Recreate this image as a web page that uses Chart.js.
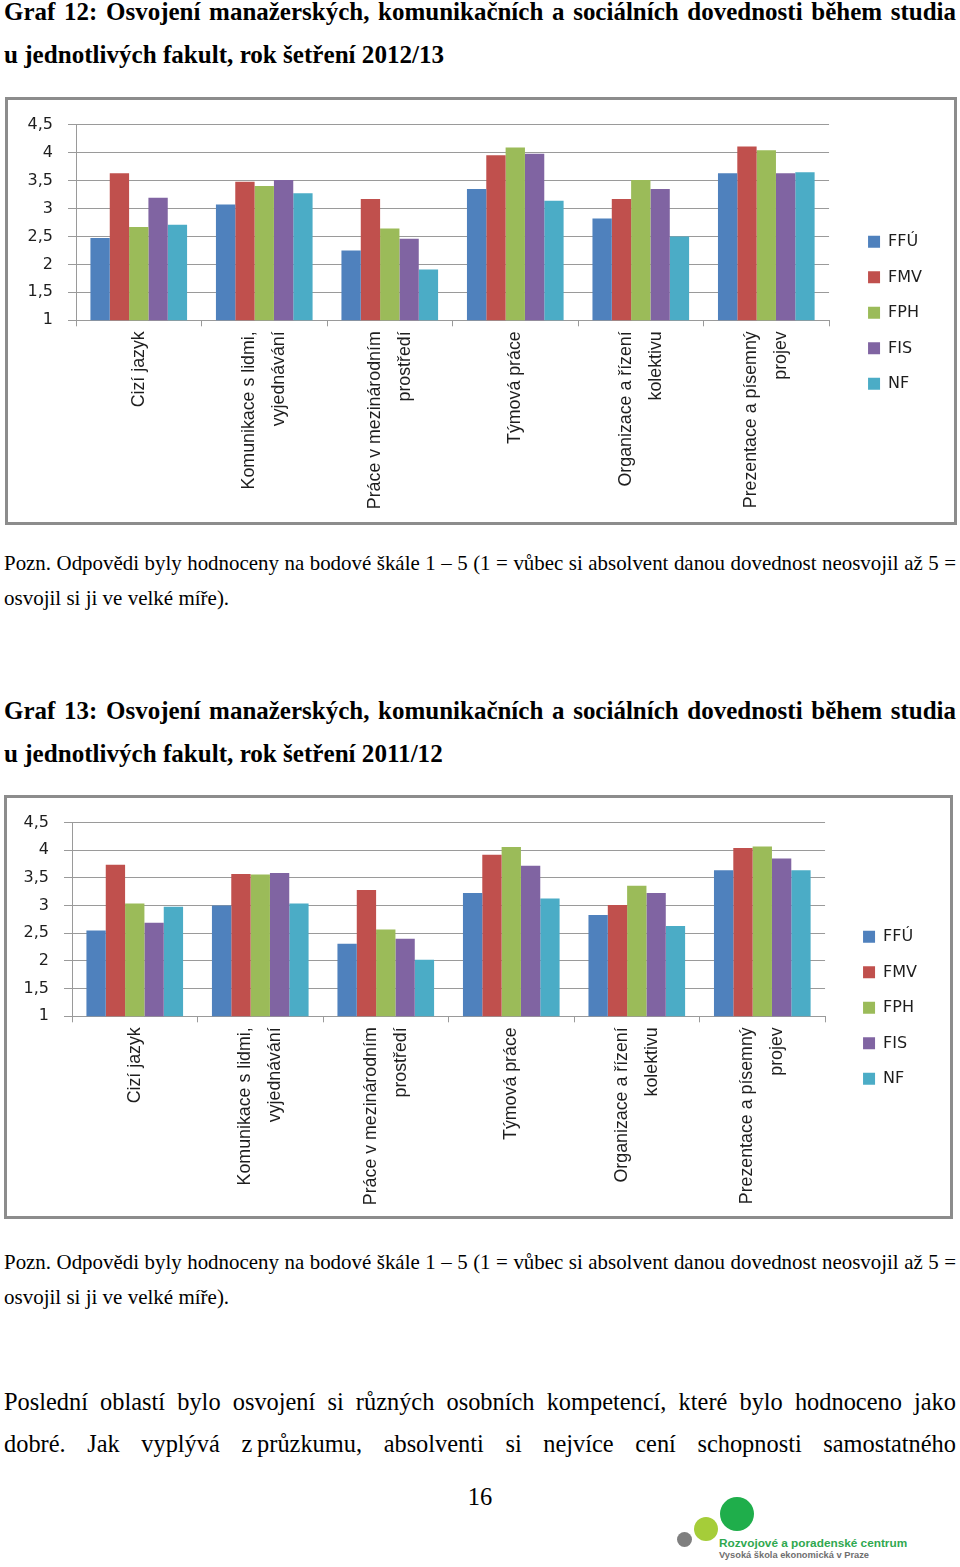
<!DOCTYPE html>
<html>
<head>
<meta charset="utf-8">
<script src="https://cdn.jsdelivr.net/npm/chart.js@4.4.1/dist/chart.umd.min.js"></script>
<style>
  body { margin: 0; background: #fff; }
  #page { position: relative; width: 960px; height: 1567px; overflow: hidden; font-family: "Liberation Serif", "Times New Roman", serif; color: #000; }
  .line { position: absolute; left: 4px; width: 952px; white-space: nowrap; line-height: 1; transform-origin: 0 0; }
  .just { text-align: justify; text-align-last: justify; }
  .title { font-weight: bold; }
  .box { position: absolute; border: 3px solid #8c8c8c; background: #fff; }
  .box .wrap { position: absolute; left: 0; top: 0; }
  .dot { position: absolute; border-radius: 50%; }
</style>
</head>
<body>
<div id="page">
  <div class="line title just" data-h="26" data-w="25.1" style="top:-2.3px"><span>Graf 12: Osvojení manažerských, komunikačních a sociálních dovednosti během studia</span></div>
  <div class="line title" data-h="26" data-w="25.1" style="top:41.2px"><span>u jednotlivých fakult, rok šetření 2012/13</span></div>

  <div class="box" style="left:5px; top:97px; width:946px; height:422px;">
    <div class="wrap" style="width:946px; height:422px;"><canvas id="chart1"></canvas></div>
  </div>

  <div class="line note just" data-h="22" data-w="21" style="top:551.6px"><span>Pozn. Odpovědi byly hodnoceny na bodové škále 1 – 5 (1 = vůbec si absolvent danou dovednost neosvojil až 5 =</span></div>
  <div class="line note" data-h="22" data-w="21" style="top:586.6px"><span>osvojil si ji ve velké míře).</span></div>

  <div class="line title just" data-h="26" data-w="25.1" style="top:696.7px"><span>Graf 13: Osvojení manažerských, komunikačních a sociálních dovednosti během studia</span></div>
  <div class="line title" data-h="26" data-w="25.1" style="top:740.2px"><span>u jednotlivých fakult, rok šetření 2011/12</span></div>

  <div class="box" style="left:4px; top:795px; width:943px; height:418px;">
    <div class="wrap" style="width:943px; height:418px;"><canvas id="chart2"></canvas></div>
  </div>

  <div class="line note just" data-h="22" data-w="21" style="top:1250.6px"><span>Pozn. Odpovědi byly hodnoceny na bodové škále 1 – 5 (1 = vůbec si absolvent danou dovednost neosvojil až 5 =</span></div>
  <div class="line note" data-h="22" data-w="21" style="top:1285.6px"><span>osvojil si ji ve velké míře).</span></div>

  <div class="line para just" data-h="25.5" data-w="24.5" style="top:1388.5px"><span>Poslední oblastí bylo osvojení si různých osobních kompetencí, které bylo hodnoceno jako</span></div>
  <div class="line para just" data-h="25.5" data-w="24.5" style="top:1430.5px"><span>dobré. Jak vyplývá z&#8201;průzkumu, absolventi si nejvíce cení schopnosti samostatného</span></div>
  <div class="line para" data-h="25.5" data-w="24.5" style="top:1483.5px; text-align:center; left:0; width:960px;"><span>16</span></div>

  <!-- logo -->
  <div class="dot" style="left:677px; top:1532px; width:15px; height:15px; background:#7f7f7f;"></div>
  <div class="dot" style="left:694px; top:1517px; width:24px; height:24px; background:#a5cd39;"></div>
  <div class="dot" style="left:720px; top:1497px; width:34px; height:34px; background:#1fae4b;"></div>
  <div style="position:absolute; left:719px; top:1536px; font:bold 11.8px 'Liberation Sans', Arial, sans-serif; color:#2fa84f; white-space:nowrap;">Rozvojové a poradenské centrum</div>
  <div style="position:absolute; left:719px; top:1550px; font:bold 9.3px 'Liberation Sans', Arial, sans-serif; color:#6f6f6f; white-space:nowrap;">Vysoká škola ekonomická v Praze</div>
</div>

<script>
// TEXT LINES: horizontal size from data-w (shrunk if the line would not fit),
// vertical size from data-h through scaleY
document.querySelectorAll(".line").forEach(el => {
  const h = parseFloat(el.dataset.h);
  const wSize = parseFloat(el.dataset.w);
  el.style.fontSize = wSize + "px";
  const w = el.firstElementChild.getBoundingClientRect().width;
  const size = w > 948 ? wSize * 948 / w : wSize;
  el.style.fontSize = size + "px";
  el.style.transform = "scaleY(" + (h / size) + ")";
  if (el.classList.contains("just")) {
    el.style.whiteSpace = "normal";
  }
});

// skills (categories); one-line labels get an empty first line so that
// every label block ends up centred on its category
const skills = [
  ["", "Cizí jazyk"],
  ["Komunikace s lidmi,", "vyjednávání"],
  ["Práce v mezinárodním", "prostředí"],
  ["", "Týmová práce"],
  ["Organizace a řízení", "kolektivu"],
  ["Prezentace a písemný", "projev"]
];
const singleLine = [true, false, false, true, false, false];

const faculties = ["FFÚ", "FMV", "FPH", "FIS", "NF"];
const colors = ["#4F81BD", "#C0504D", "#9BBB59", "#8064A2", "#4BACC6"];
const yTicks = [1, 1.5, 2, 2.5, 3, 3.5, 4, 4.5];

// GRAF 12 - rok 2012/13
const ffu2013 = [2.47, 3.07, 2.25, 3.35, 2.82, 3.63];
const fmv2013 = [3.63, 3.48, 3.17, 3.95, 3.17, 4.11];
const fph2013 = [2.67, 3.40, 2.64, 4.09, 3.51, 4.04];
const fis2013 = [3.19, 3.51, 2.46, 3.98, 3.35, 3.63];
const nf2013  = [2.71, 3.27, 1.91, 3.14, 2.50, 3.65];

// GRAF 13 - rok 2011/12
const ffu2012 = [2.55, 3.00, 2.31, 3.23, 2.83, 3.64];
const fmv2012 = [3.74, 3.57, 3.28, 3.92, 3.01, 4.04];
const fph2012 = [3.04, 3.56, 2.57, 4.06, 3.36, 4.07];
const fis2012 = [2.69, 3.59, 2.40, 3.72, 3.23, 3.85];
const nf2012  = [2.98, 3.04, 2.02, 3.13, 2.63, 3.64];

// move the legend a bit away from the plot
const legendShift = {
  id: "legendShift",
  afterLayout(chart, args, opts) {
    chart.legend.left += opts.x;
    chart.legend.right += opts.x;
    chart.legend.top += opts.y;
    chart.legend.bottom += opts.y;
  }
};

const LABEL_LINE = 30;
const LABEL_SIZE = 17.8;

function makeChart(id, series, geo) {
  const gridColor = "#9a9a9a";
  return new Chart(document.getElementById(id), {
    type: "bar",
    plugins: [legendShift],
    data: {
      labels: skills,
      datasets: series.map((data, i) => ({
        label: faculties[i],
        data: data,
        backgroundColor: colors[i],
        borderWidth: 0,
        categoryPercentage: 0.77,
        barPercentage: 1
      }))
    },
    options: {
      responsive: true,
      maintainAspectRatio: false,
      animation: false,
      layout: {
        padding: { top: geo.top, right: geo.right, left: 0, bottom: 0 }
      },
      plugins: {
        legendShift: { x: geo.shift, y: -9 },
        tooltip: { enabled: false },
        legend: {
          position: "right",
          align: "center",
          labels: {
            boxWidth: 12,
            boxHeight: 12,
            padding: 19.5,
            color: "#1e1e1e",
            font: { family: "DejaVu Sans", size: 16 }
          }
        }
      },
      scales: {
        x: {
          afterFit: (scale) => { scale.height = geo.xHeight; },
          grid: {
            offset: true,
            drawOnChartArea: false,
            tickLength: 6,
            color: gridColor
          },
          border: { color: gridColor },
          ticks: {
            autoSkip: false,
            maxRotation: 90,
            minRotation: 90,
            padding: 5,
            labelOffset: -LABEL_LINE / 2,
            color: "#1e1e1e",
            font: (ctx) => ({
              family: "Liberation Sans",
              size: LABEL_SIZE,
              lineHeight: (singleLine[ctx.index] ? LABEL_LINE / 2 : LABEL_LINE) / LABEL_SIZE
            })
          }
        },
        y: {
          min: 1,
          max: 4.5,
          afterFit: (scale) => { scale.width = geo.yWidth; },
          afterBuildTicks: (scale) => { scale.ticks = yTicks.map(v => ({ value: v })); },
          grid: { color: gridColor, tickLength: 8 },
          border: { color: gridColor },
          ticks: {
            padding: 15,
            color: "#1e1e1e",
            font: { family: "DejaVu Sans", size: 16 },
            callback: (value) => String(value).replace(".", ",")
          }
        }
      }
    }
  });
}

makeChart("chart1", [ffu2013, fmv2013, fph2013, fis2013, nf2013],
  { top: 21.7, right: 41.5, shift: 19.5, xHeight: 201.7, yWidth: 68 });

makeChart("chart2", [ffu2012, fmv2012, fph2012, fis2012, nf2012],
  { top: 19.7, right: 41.5, shift: 18.5, xHeight: 199.7, yWidth: 65 });
</script>
</body>
</html>
